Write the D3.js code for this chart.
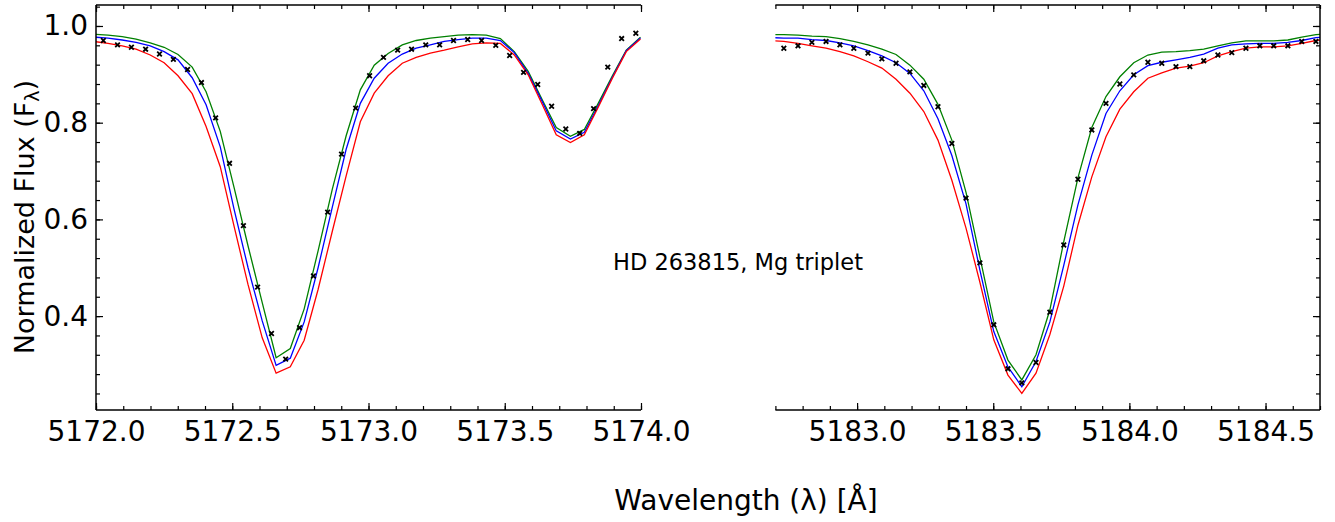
<!DOCTYPE html>
<html>
<head>
<meta charset="utf-8">
<script src="https://cdn.jsdelivr.net/npm/d3@7"></script>
<style>
  body { margin: 0; background: #fff; }
  text { font-family: "DejaVu Sans", sans-serif; }
</style>
</head>
<body>
<div id="canvas"></div>
<script>
// ---- left window: 5172-5174 A ----
var leftModelWave = [5171.993, 5172.044, 5172.096, 5172.147, 5172.199, 5172.250, 5172.301, 5172.353, 5172.404, 5172.456,
  5172.507, 5172.558, 5172.610, 5172.661, 5172.713, 5172.764, 5172.815, 5172.867, 5172.918, 5172.970,
  5173.021, 5173.072, 5173.124, 5173.175, 5173.227, 5173.278, 5173.329, 5173.381, 5173.432, 5173.484,
  5173.535, 5173.586, 5173.638, 5173.689, 5173.741, 5173.792, 5173.843, 5173.895, 5173.946, 5173.998];
var leftGreen = [0.983, 0.981, 0.978, 0.973, 0.965, 0.956, 0.941, 0.915, 0.864, 0.782,
  0.665, 0.545, 0.428, 0.314, 0.333, 0.415, 0.535, 0.662, 0.773, 0.868,
  0.919, 0.943, 0.961, 0.970, 0.975, 0.978, 0.981, 0.982, 0.981, 0.974,
  0.947, 0.906, 0.847, 0.790, 0.772, 0.786, 0.840, 0.897, 0.950, 0.977];
var leftBlue = [0.977, 0.975, 0.971, 0.966, 0.959, 0.947, 0.930, 0.893, 0.837, 0.750,
  0.620, 0.500, 0.390, 0.298, 0.313, 0.388, 0.500, 0.625, 0.745, 0.840,
  0.892, 0.923, 0.942, 0.954, 0.961, 0.968, 0.972, 0.975, 0.975, 0.970,
  0.945, 0.902, 0.843, 0.783, 0.766, 0.780, 0.835, 0.894, 0.949, 0.975];
var leftRed = [0.968, 0.964, 0.959, 0.952, 0.940, 0.924, 0.897, 0.860, 0.792, 0.709,
  0.585, 0.465, 0.355, 0.282, 0.295, 0.350, 0.455, 0.575, 0.690, 0.802,
  0.861, 0.897, 0.923, 0.935, 0.944, 0.950, 0.957, 0.963, 0.965, 0.964,
  0.940, 0.899, 0.837, 0.775, 0.759, 0.775, 0.832, 0.892, 0.947, 0.973];
var leftObsWave = [5172.027, 5172.079, 5172.130, 5172.182, 5172.233, 5172.284, 5172.336, 5172.387, 5172.439, 5172.490,
  5172.541, 5172.593, 5172.644, 5172.696, 5172.747, 5172.798, 5172.850, 5172.901, 5172.953, 5173.004,
  5173.055, 5173.107, 5173.158, 5173.210, 5173.261, 5173.312, 5173.364, 5173.415, 5173.467, 5173.518,
  5173.569, 5173.621, 5173.672, 5173.724, 5173.775, 5173.826, 5173.878, 5173.929, 5173.981];
var leftObsFlux = [0.970, 0.961, 0.956, 0.952, 0.942, 0.931, 0.910, 0.883, 0.810, 0.716,
  0.587, 0.460, 0.364, 0.311, 0.376, 0.483, 0.615, 0.735, 0.830, 0.897,
  0.935, 0.950, 0.952, 0.961, 0.961, 0.970, 0.972, 0.970, 0.960, 0.939,
  0.904, 0.879, 0.834, 0.787, 0.778, 0.829, 0.915, 0.974, 0.985];

// ---- right window: 5182.7-5184.7 A ----
var rightModelWave = [5182.680, 5182.731, 5182.783, 5182.834, 5182.886, 5182.937, 5182.988, 5183.040, 5183.091, 5183.143,
  5183.194, 5183.245, 5183.297, 5183.348, 5183.400, 5183.451, 5183.502, 5183.554, 5183.605, 5183.657,
  5183.708, 5183.759, 5183.811, 5183.862, 5183.914, 5183.965, 5184.016, 5184.068, 5184.119, 5184.171,
  5184.222, 5184.273, 5184.325, 5184.376, 5184.428, 5184.479, 5184.530, 5184.582, 5184.633, 5184.685, 5184.736];
var rightGreen = [0.982, 0.982, 0.981, 0.979, 0.978, 0.974, 0.968, 0.961, 0.952, 0.941,
  0.919, 0.890, 0.838, 0.764, 0.656, 0.522, 0.388, 0.309, 0.268, 0.320,
  0.413, 0.554, 0.686, 0.790, 0.854, 0.895, 0.924, 0.940, 0.946, 0.947,
  0.949, 0.952, 0.959, 0.965, 0.969, 0.969, 0.969, 0.971, 0.977, 0.982, 0.984];
var rightBlue = [0.976, 0.975, 0.975, 0.972, 0.970, 0.965, 0.959, 0.949, 0.938, 0.924,
  0.902, 0.866, 0.808, 0.732, 0.632, 0.495, 0.368, 0.295, 0.254, 0.306,
  0.388, 0.505, 0.630, 0.733, 0.819, 0.866, 0.899, 0.918, 0.925, 0.930,
  0.935, 0.942, 0.954, 0.961, 0.963, 0.964, 0.964, 0.966, 0.970, 0.976, 0.978];
var rightRed = [0.970, 0.968, 0.964, 0.959, 0.954, 0.947, 0.938, 0.926, 0.913, 0.890,
  0.861, 0.823, 0.764, 0.681, 0.582, 0.470, 0.351, 0.278, 0.240, 0.282,
  0.362, 0.462, 0.588, 0.688, 0.771, 0.828, 0.864, 0.892, 0.903, 0.913,
  0.917, 0.924, 0.938, 0.947, 0.954, 0.957, 0.957, 0.959, 0.964, 0.970, 0.972];
var rightObsWave = [5182.731, 5182.783, 5182.834, 5182.886, 5182.937, 5182.988, 5183.040, 5183.091, 5183.143, 5183.194,
  5183.245, 5183.297, 5183.348, 5183.400, 5183.451, 5183.502, 5183.554, 5183.605, 5183.657, 5183.708,
  5183.759, 5183.811, 5183.862, 5183.914, 5183.965, 5184.016, 5184.068, 5184.119, 5184.171, 5184.222,
  5184.273, 5184.325, 5184.376, 5184.428, 5184.479, 5184.530, 5184.582, 5184.633, 5184.685];
var rightObsFlux = [0.954, 0.959, 0.966, 0.968, 0.961, 0.954, 0.944, 0.932, 0.923, 0.905,
  0.877, 0.833, 0.757, 0.644, 0.510, 0.382, 0.291, 0.262, 0.304, 0.408,
  0.547, 0.683, 0.785, 0.840, 0.880, 0.899, 0.925, 0.923, 0.916, 0.916,
  0.928, 0.940, 0.945, 0.954, 0.959, 0.959, 0.959, 0.968, 0.968];

var leftTicks = [5172.0, 5172.5, 5173.0, 5173.5, 5174.0];
var rightTicks = [5183.0, 5183.5, 5184.0, 5184.5];
var fluxTicks = [0.4, 0.6, 0.8, 1.0];

var width = 1335, height = 522;
var plotTop = 5, plotBottom = 410;
var fluxDomain = [0.2058, 1.0434];

var svg = d3.select("#canvas").append("svg").attr("width", width).attr("height", height);

var y = d3.scaleLinear().domain(fluxDomain).range([plotBottom, plotTop]);

drawPanel({
  id: "left", x0: 96, x1: 641, domain: [5172.0, 5174.0], ticks: leftTicks, side: "left",
  wave: leftModelWave, green: leftGreen, blue: leftBlue, red: leftRed,
  obsWave: leftObsWave, obsFlux: leftObsFlux
});
drawPanel({
  id: "right", x0: 775.4, x1: 1320, domain: [5182.7, 5184.7], ticks: rightTicks, side: "right",
  wave: rightModelWave, green: rightGreen, blue: rightBlue, red: rightRed,
  obsWave: rightObsWave, obsFlux: rightObsFlux
});

function drawPanel(p) {
  var x = d3.scaleLinear().domain(p.domain).range([p.x0, p.x1]);
  var g = svg.append("g").attr("class", "panel-" + p.id);

  g.append("clipPath").attr("id", "clip-" + p.id)
    .append("rect").attr("x", p.x0).attr("y", plotTop).attr("width", p.x1 - p.x0).attr("height", plotBottom - plotTop);

  var plot = g.append("g").attr("clip-path", "url(#clip-" + p.id + ")");
  var line = d3.line().x(d => x(d[0])).y(d => y(d[1]));

  [["green", p.green], ["blue", p.blue], ["red", p.red]].forEach(s => {
    plot.append("path")
      .datum(p.wave.map((w, i) => [w, s[1][i]]))
      .attr("d", line)
      .attr("fill", "none")
      .attr("stroke", s[0])
      .attr("stroke-width", 1.3);
  });

  plot.selectAll("path.obs")
    .data(p.obsWave.map((w, i) => [w, p.obsFlux[i]]))
    .enter()
    .append("path")
    .attr("class", "obs")
    .attr("transform", d => `translate(${x(d[0])},${y(d[1])})`)
    .attr("d", "M-2.3,-2.3L2.3,2.3M-2.3,2.3L2.3,-2.3")
    .attr("stroke", "black")
    .attr("stroke-width", 1.8);

  // minor x ticks every 0.1 A, minor y ticks every 0.04
  var minorX = d3.range(Math.ceil(p.domain[0] * 10), Math.floor(p.domain[1] * 10) + 1).map(v => v / 10);
  var minorY = d3.range(6, 27).map(v => v * 0.04);

  var bottomMinor = d3.axisBottom(x).tickValues(minorX).tickSize(-4).tickSizeOuter(0).tickFormat("");
  var bottomMajor = d3.axisBottom(x).tickValues(p.ticks).tickSize(-7).tickSizeOuter(0).tickPadding(11)
    .tickFormat(d3.format(".1f"));
  var topMinor = d3.axisTop(x).tickValues(minorX).tickSize(-4).tickSizeOuter(0).tickFormat("");
  var topMajor = d3.axisTop(x).tickValues(p.ticks).tickSize(-7).tickSizeOuter(0).tickFormat("");

  g.append("g").attr("transform", `translate(0,${plotBottom})`).call(bottomMinor);
  g.append("g").attr("class", "xlabels").attr("transform", `translate(0,${plotBottom})`).call(bottomMajor);
  g.append("g").attr("transform", `translate(0,${plotTop})`).call(topMinor);
  g.append("g").attr("transform", `translate(0,${plotTop})`).call(topMajor);

  if (p.side === "left") {
    g.append("g").attr("transform", `translate(${p.x0},0)`)
      .call(d3.axisLeft(y).tickValues(minorY).tickSize(-4).tickSizeOuter(0).tickFormat(""));
    g.append("g").attr("class", "ylabels").attr("transform", `translate(${p.x0},0)`)
      .call(d3.axisLeft(y).tickValues(fluxTicks).tickSize(-7).tickSizeOuter(0).tickPadding(8)
        .tickFormat(d3.format(".1f")));
  } else {
    g.append("g").attr("transform", `translate(${p.x1},0)`)
      .call(d3.axisRight(y).tickValues(minorY).tickSize(-4).tickSizeOuter(0).tickFormat(""));
    g.append("g").attr("transform", `translate(${p.x1},0)`)
      .call(d3.axisRight(y).tickValues(fluxTicks).tickSize(-7).tickSizeOuter(0).tickFormat(""));
  }

  g.selectAll(".domain").remove();
  g.selectAll(".tick line").attr("stroke", "black").attr("stroke-width", 1.2);
  g.selectAll(".xlabels text, .ylabels text").attr("font-size", 28).attr("fill", "black");

  // spines: broken axis, so the inner side stays open
  g.append("line").attr("x1", p.x0).attr("x2", p.x1).attr("y1", plotTop).attr("y2", plotTop);
  g.append("line").attr("x1", p.x0).attr("x2", p.x1).attr("y1", plotBottom).attr("y2", plotBottom);
  var sx = p.side === "left" ? p.x0 : p.x1;
  g.append("line").attr("x1", sx).attr("x2", sx).attr("y1", plotTop).attr("y2", plotBottom);
  g.selectAll(":scope > line").attr("stroke", "black").attr("stroke-width", 1.5);
}

// axis titles and annotation
var ylab = svg.append("text")
  .attr("transform", "translate(34,217) rotate(-90)")
  .attr("text-anchor", "middle")
  .attr("font-size", 27);
ylab.append("tspan").text("Normalized Flux (F");
ylab.append("tspan").attr("font-size", 19).attr("dy", 5).text("λ");
ylab.append("tspan").attr("dy", -5).text(")");

svg.append("text")
  .attr("x", 746).attr("y", 510)
  .attr("text-anchor", "middle")
  .attr("font-size", 28)
  .text("Wavelength (λ) [Å]");

svg.append("text")
  .attr("x", 613).attr("y", 270)
  .attr("font-size", 22.5)
  .text("HD 263815, Mg triplet");
</script>
</body>
</html>
